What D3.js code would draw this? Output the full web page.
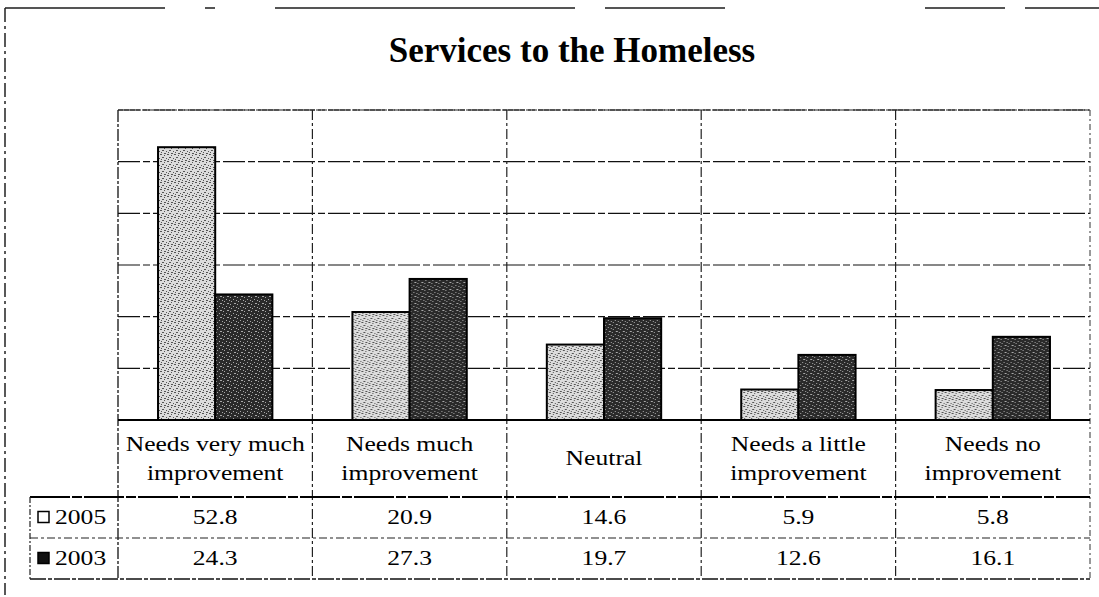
<!DOCTYPE html>
<html>
<head>
<meta charset="utf-8">
<script src="https://cdn.jsdelivr.net/npm/d3@7"></script>
<style>
  body { margin: 0; background: #fff; }
  text { font-family: 'Liberation Serif', 'Times New Roman', serif; fill: #000; }
</style>
</head>
<body>
<div id="canvas"></div>
<script>
var categories = ['Needs very much\nimprovement', 'Needs much\nimprovement', 'Neutral', 'Needs a little\nimprovement', 'Needs no\nimprovement']
var series = ['2005', '2003']
var values2005 = [52.8, 20.9, 14.6, 5.9, 5.8]
var values2003 = [24.3, 27.3, 19.7, 12.6, 16.1]
var yTicks = [0, 10, 20, 30, 40, 50, 60]

var width = 1099, height = 597
var plot = {left: 118, right: 1090, top: 110, bottom: 420}
var labelBottom = 497, row1Bottom = 538, tableBottom = 579, legendLeft = 30

var svg = d3.select('#canvas')
  .append('svg')
  .attr('width', width)
  .attr('height', height)

// stipple textures like the scanned bars
var defs = svg.append('defs')
function texture (id, bg, fg, dots) {
  var p = defs.append('pattern')
    .attr('id', id)
    .attr('patternUnits', 'userSpaceOnUse')
    .attr('width', 7).attr('height', 7)
  p.append('rect').attr('width', 7).attr('height', 7).attr('fill', bg)
  dots.forEach(d => {
    p.append('rect').attr('x', d[0]).attr('y', d[1]).attr('width', d[2]).attr('height', 1).attr('fill', fg)
  })
}
texture('tex2005', '#dcdcdc', '#555', [[0, 0, 2], [4, 1, 1], [2, 3, 2], [6, 4, 1], [1, 5, 1], [4, 6, 2]])
texture('tex2003', '#2a2a2a', '#a8a8a8', [[1, 0, 1], [4, 2, 2], [0, 3, 1], [3, 5, 1], [6, 6, 1]])

var fills = {'2005': 'url(#tex2005)', '2003': 'url(#tex2003)'}

var x0 = d3.scaleBand()
  .domain(categories)
  .range([plot.left, plot.right])

var x1 = d3.scaleBand()
  .domain(series)
  .range([0, x0.bandwidth()])
  .paddingOuter(0.7)

var y = d3.scaleLinear()
  .domain([0, 60])
  .range([plot.bottom, plot.top])

// outer frame (scanned edges)
svg.append('line')
  .attr('x1', 5).attr('x2', width).attr('y1', 8).attr('y2', 8)
  .attr('stroke', '#555').attr('stroke-width', 2)
  .attr('stroke-dasharray', '160,40,10,60,300,30,120,200,80,20')
svg.append('line')
  .attr('x1', 5).attr('x2', 5).attr('y1', 8).attr('y2', 595)
  .attr('stroke', '#222').attr('stroke-width', 1.5)
  .attr('stroke-dasharray', '14,4,3,4')

svg.append('text')
  .attr('x', 572)
  .attr('y', 62)
  .attr('text-anchor', 'middle')
  .style('font-size', '35px')
  .style('font-weight', 'bold')
  .text('Services to the Homeless')

// gridlines
svg.append('g')
  .selectAll('line')
  .data(yTicks.slice(1))
  .enter()
  .append('line')
  .attr('x1', plot.left).attr('x2', plot.right)
  .attr('y1', d => y(d)).attr('y2', d => y(d))
  .attr('stroke', '#111')
  .attr('stroke-width', 1.2)
  .attr('stroke-dasharray', '22,3,7,3')

// column separators running through plot and table
var seps = categories.slice(1).map(c => x0(c))
svg.append('g')
  .selectAll('line')
  .data(seps)
  .enter()
  .append('line')
  .attr('x1', d => d).attr('x2', d => d)
  .attr('y1', plot.top).attr('y2', tableBottom)
  .attr('stroke', '#222')
  .attr('stroke-width', 1.2)
  .attr('stroke-dasharray', '10,3,3,3')

// plot border
svg.append('line')
  .attr('x1', plot.left).attr('x2', plot.left).attr('y1', plot.top).attr('y2', tableBottom)
  .attr('stroke', '#111').attr('stroke-width', 1.3).attr('stroke-dasharray', '12,2,3,2')
svg.append('line')
  .attr('x1', plot.right).attr('x2', plot.right).attr('y1', plot.top).attr('y2', tableBottom)
  .attr('stroke', '#333').attr('stroke-width', 1).attr('stroke-dasharray', '6,3,2,3')

// bars
var rows = series.map((s, i) => ({ key: s, values: i === 0 ? values2005 : values2003 }))
var groups = svg.append('g')
  .selectAll('g')
  .data(categories)
  .enter()
  .append('g')
  .attr('transform', d => 'translate(' + x0(d) + ',0)')

groups.selectAll('rect')
  .data((c, ci) => rows.map(r => ({ key: r.key, value: r.values[ci] })))
  .enter()
  .append('rect')
  .attr('x', d => x1(d.key))
  .attr('y', d => y(d.value))
  .attr('width', x1.bandwidth())
  .attr('height', d => y(0) - y(d.value))
  .attr('fill', d => fills[d.key])
  .attr('stroke', '#000')
  .attr('stroke-width', 2)

// table lines
svg.append('line')
  .attr('x1', plot.left).attr('x2', plot.right).attr('y1', plot.top).attr('y2', plot.top)
  .attr('stroke', '#222').attr('stroke-width', 1.2).attr('stroke-dasharray', '5,1')
svg.append('line')
  .attr('x1', plot.left).attr('x2', plot.right).attr('y1', y(0)).attr('y2', y(0))
  .attr('stroke', '#000').attr('stroke-width', 2.2)
svg.append('line')
  .attr('x1', legendLeft).attr('x2', plot.right).attr('y1', labelBottom).attr('y2', labelBottom)
  .attr('stroke', '#000').attr('stroke-width', 1.8).attr('stroke-dasharray', '40,2,10,2')
svg.append('line')
  .attr('x1', legendLeft).attr('x2', plot.right).attr('y1', row1Bottom).attr('y2', row1Bottom)
  .attr('stroke', '#222').attr('stroke-width', 1.2).attr('stroke-dasharray', '8,3,3,3')
svg.append('line')
  .attr('x1', legendLeft).attr('x2', plot.right).attr('y1', tableBottom).attr('y2', tableBottom)
  .attr('stroke', '#111').attr('stroke-width', 1.5).attr('stroke-dasharray', '16,2,4,2')
svg.append('line')
  .attr('x1', legendLeft).attr('x2', legendLeft).attr('y1', labelBottom).attr('y2', tableBottom)
  .attr('stroke', '#222').attr('stroke-width', 1.2).attr('stroke-dasharray', '6,2,2,2')

// stretched text, the scan is wider than it is tall
var sx = 1.28
function label (g, x, yy, txt) {
  g.append('text')
    .attr('transform', 'translate(' + x + ',' + yy + ') scale(' + sx + ',1)')
    .attr('text-anchor', 'middle')
    .attr('dominant-baseline', 'central')
    .style('font-size', '20px')
    .text(txt)
}

var tbl = svg.append('g')
categories.forEach(c => {
  var lines = c.split('\n')
  var cx = x0(c) + x0.bandwidth() / 2
  var mid = (plot.bottom + labelBottom) / 2
  lines.forEach((l, i) => {
    label(tbl, cx, mid + (i - (lines.length - 1) / 2) * 29, l)
  })
})

var rowMids = [(labelBottom + row1Bottom) / 2, (row1Bottom + tableBottom) / 2]
rows.forEach((r, ri) => {
  r.values.forEach((v, ci) => {
    label(tbl, x0(categories[ci]) + x0.bandwidth() / 2, rowMids[ri], v.toFixed(1))
  })
  // legend key + year
  tbl.append('rect')
    .attr('x', 38).attr('y', rowMids[ri] - 6)
    .attr('width', 11).attr('height', 11)
    .attr('fill', ri === 0 ? '#fff' : '#111')
    .attr('stroke', '#000').attr('stroke-width', 1.5)
  tbl.append('text')
    .attr('transform', 'translate(55,' + rowMids[ri] + ') scale(' + sx + ',1)')
    .attr('dominant-baseline', 'central')
    .style('font-size', '20px')
    .text(r.key)
})
</script>
</body>
</html>
